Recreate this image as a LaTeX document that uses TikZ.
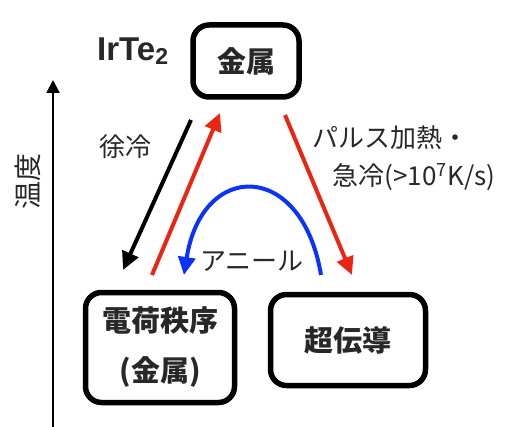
\documentclass[tikz,border=0pt]{standalone}
\usepackage{fontspec}
\usetikzlibrary{arrows.meta}
\newfontfamily\jp{Noto Sans CJK JP}
\newfontfamily\lat{Liberation Sans}
\definecolor{myred}{RGB}{235,36,20}
\definecolor{myblue}{RGB}{10,50,250}
\definecolor{txt}{RGB}{40,40,40}
\begin{document}
\begin{tikzpicture}[x=1pt,y=-1pt,
  statebox/.style={draw=black,line width=5.5pt,rounded corners=16pt,text=txt,
    font=\jp\bfseries\fontsize{29}{50}\selectfont,align=center,inner sep=0pt},
  lbl/.style={text=txt,font=\jp\fontsize{26}{30}\selectfont,inner sep=0pt},
  conn/.style={line width=4pt,-{Triangle[length=18pt,width=17pt]}}]
\useasboundingbox (0,0) rectangle (505,427);
% axis
\coordinate (ax0) at (53,427);
\coordinate (ax1) at (53,80);
\draw[line width=2.2pt,-{Triangle[length=13pt,width=13pt]}] (ax0) -- (ax1);
\node[lbl,rotate=90,font=\jp\fontsize{28}{30}\selectfont] (temp) at (28,182) {温度};
% boxes
\node[statebox,minimum width=106pt,minimum height=72pt] (metal) at (246,61) {金属};
\node[statebox,minimum width=149pt,minimum height=110pt] (co) at (160,347.5) {電荷秩序\\(金属)};
\node[statebox,minimum width=155pt,minimum height=91pt] (sc) at (348,340) {超伝導};
\node[text=txt,font=\lat\bfseries\fontsize{33}{34}\selectfont,anchor=base west,inner sep=0pt] (irte) at (97,61) {IrTe\raisebox{-4pt}{\fontsize{23}{24}\selectfont 2}};
% arrow ends
\coordinate (b0) at (191,120);
\coordinate (b1) at (123,270);
\coordinate (r0) at (152,275);
\coordinate (r1) at (220,113);
\coordinate (p0) at (285,115);
\coordinate (p1) at (352,275);
\coordinate (a0) at (321,275);
\coordinate (a1) at (184,275);
\draw[conn,black] (b0) -- (b1);
\draw[conn,myred] (r0) -- (r1);
\draw[conn,myred] (p0) -- (p1);
\draw[conn,myblue] (a0) .. controls (302,160) and (202,160) .. (a1);
% labels
\node[lbl] (slow) at (125,147) {徐冷};
\node[lbl] (pulse) at (390,138) {パルス加熱・};
\node[lbl] (quench) at (414,177) {急冷(>10\textsuperscript{7}K/s)};
\node[lbl] (anneal) at (252,261) {アニール};
\end{tikzpicture}
\end{document}
